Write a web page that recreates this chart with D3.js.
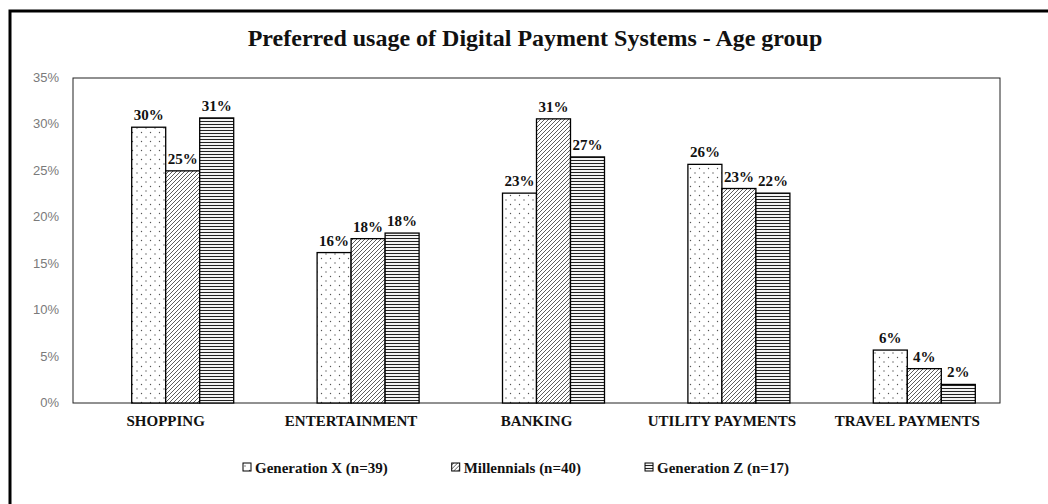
<!DOCTYPE html>
<html lang="en">
<head>
  <meta charset="UTF-8">
  <script src="https://d3js.org/d3.v7.min.js"></script>
  <style>
    body { margin: 0; background: #fff; }
    .tick-label { font-family: "Liberation Sans", Arial, sans-serif; font-size: 13px; fill: #7a7a7a; }
    .serif-b { font-family: "Liberation Serif", "Times New Roman", serif; font-weight: bold; fill: #111; }
  </style>
</head>
<body>
  <div id="chart"></div>
  <script>
    // data
    const categories = ["SHOPPING", "ENTERTAINMENT", "BANKING", "UTILITY PAYMENTS", "TRAVEL PAYMENTS"];
    const seriesNames = ["Generation X (n=39)", "Millennials (n=40)", "Generation Z (n=17)"];
    const genX = [29.7, 16.2, 22.6, 25.7, 5.7];
    const millennials = [25.0, 17.7, 30.6, 23.1, 3.7];
    const genZ = [30.7, 18.3, 26.5, 22.6, 2.0];
    const valueLabels = [
      ["30%", "16%", "23%", "26%", "6%"],
      ["25%", "18%", "31%", "23%", "4%"],
      ["31%", "18%", "27%", "22%", "2%"]
    ];
    const yTicks = [0, 5, 10, 15, 20, 25, 30, 35];
    const patterns = ["dots", "diag", "horiz"];

    const series = [genX, millennials, genZ];

    const width = 1048, height = 504;
    const plot = { left: 73, right: 1000, top: 78, bottom: 403 };

    const svg = d3.select("#chart").append("svg")
      .attr("width", width)
      .attr("height", height);

    // fill patterns
    const defs = svg.append("defs");
    const pDots = defs.append("pattern").attr("id", "dots")
      .attr("patternUnits", "userSpaceOnUse").attr("width", 9).attr("height", 9);
    pDots.append("rect").attr("width", 9).attr("height", 9).attr("fill", "#fff");
    pDots.append("circle").attr("cx", 2).attr("cy", 2).attr("r", 0.7).attr("fill", "#555");
    pDots.append("circle").attr("cx", 6.5).attr("cy", 6.5).attr("r", 0.7).attr("fill", "#555");

    const pDiag = defs.append("pattern").attr("id", "diag")
      .attr("patternUnits", "userSpaceOnUse").attr("width", 4).attr("height", 4);
    pDiag.append("rect").attr("width", 4).attr("height", 4).attr("fill", "#fff");
    pDiag.append("path").attr("d", "M-1,1 l2,-2 M0,4 l4,-4 M3,5 l2,-2")
      .attr("stroke", "#333").attr("stroke-width", 0.8);

    const pHoriz = defs.append("pattern").attr("id", "horiz")
      .attr("patternUnits", "userSpaceOnUse").attr("width", 4).attr("height", 3);
    pHoriz.append("rect").attr("width", 4).attr("height", 3).attr("fill", "#fff");
    pHoriz.append("line").attr("x1", 0).attr("x2", 4).attr("y1", 1.5).attr("y2", 1.5)
      .attr("stroke", "#222").attr("stroke-width", 1.1);

    // outer frame
    svg.append("rect")
      .attr("x", 10).attr("y", 11)
      .attr("width", width + 20).attr("height", height + 20)
      .attr("fill", "none").attr("stroke", "#000").attr("stroke-width", 3);

    // title
    svg.append("text")
      .attr("class", "serif-b")
      .attr("x", 535).attr("y", 46)
      .attr("text-anchor", "middle")
      .style("font-size", "24px")
      .text("Preferred usage of Digital Payment Systems - Age group");

    const x = d3.scaleBand().domain(categories).range([plot.left, plot.right]);
    const xInner = d3.scaleBand().domain(d3.range(series.length)).range([0, 102]);
    const y = d3.scaleLinear().domain([0, 35]).range([plot.bottom, plot.top]);
    const barShift = 17;

    // plot frame
    svg.append("rect")
      .attr("x", plot.left).attr("y", plot.top)
      .attr("width", plot.right - plot.left).attr("height", plot.bottom - plot.top)
      .attr("fill", "none").attr("stroke", "#222").attr("stroke-width", 1);

    // y axis labels
    svg.selectAll(".tick-label").data(yTicks).enter().append("text")
      .attr("class", "tick-label")
      .attr("x", 59).attr("y", d => y(d) + 4)
      .attr("text-anchor", "end")
      .text(d => d + "%");

    // bars
    series.forEach((vals, s) => {
      const g = svg.append("g");
      g.selectAll("rect").data(vals).enter().append("rect")
        .attr("x", (d, i) => x(categories[i]) + x.bandwidth() / 2 + barShift - 51 + xInner(s))
        .attr("y", d => y(d))
        .attr("width", xInner.bandwidth())
        .attr("height", d => y(0) - y(d))
        .attr("fill", `url(#${patterns[s]})`)
        .attr("stroke", "#000").attr("stroke-width", 1.3);

      g.selectAll("text").data(vals).enter().append("text")
        .attr("class", "serif-b")
        .attr("x", (d, i) => x(categories[i]) + x.bandwidth() / 2 + barShift - 51 + xInner(s) + xInner.bandwidth() / 2)
        .attr("y", d => y(d) - 7)
        .attr("text-anchor", "middle")
        .style("font-size", "15px")
        .text((d, i) => valueLabels[s][i]);
    });

    // x category labels
    svg.selectAll(".cat").data(categories).enter().append("text")
      .attr("class", "serif-b cat")
      .attr("x", d => x(d) + x.bandwidth() / 2)
      .attr("y", 426)
      .attr("text-anchor", "middle")
      .style("font-size", "15px")
      .text(d => d);

    // legend
    let lx = 243;
    seriesNames.forEach((name, s) => {
      const g = svg.append("g").attr("transform", `translate(${lx},473)`);
      g.append("rect")
        .attr("x", 0).attr("y", -10).attr("width", 8).attr("height", 8)
        .attr("fill", `url(#${patterns[s]})`)
        .attr("stroke", "#000").attr("stroke-width", 1);
      const t = g.append("text")
        .attr("class", "serif-b")
        .attr("x", 12).attr("y", 0)
        .style("font-size", "15px")
        .text(name);
      lx += 12 + t.node().getComputedTextLength() + 64;
    });
  </script>
</body>
</html>
